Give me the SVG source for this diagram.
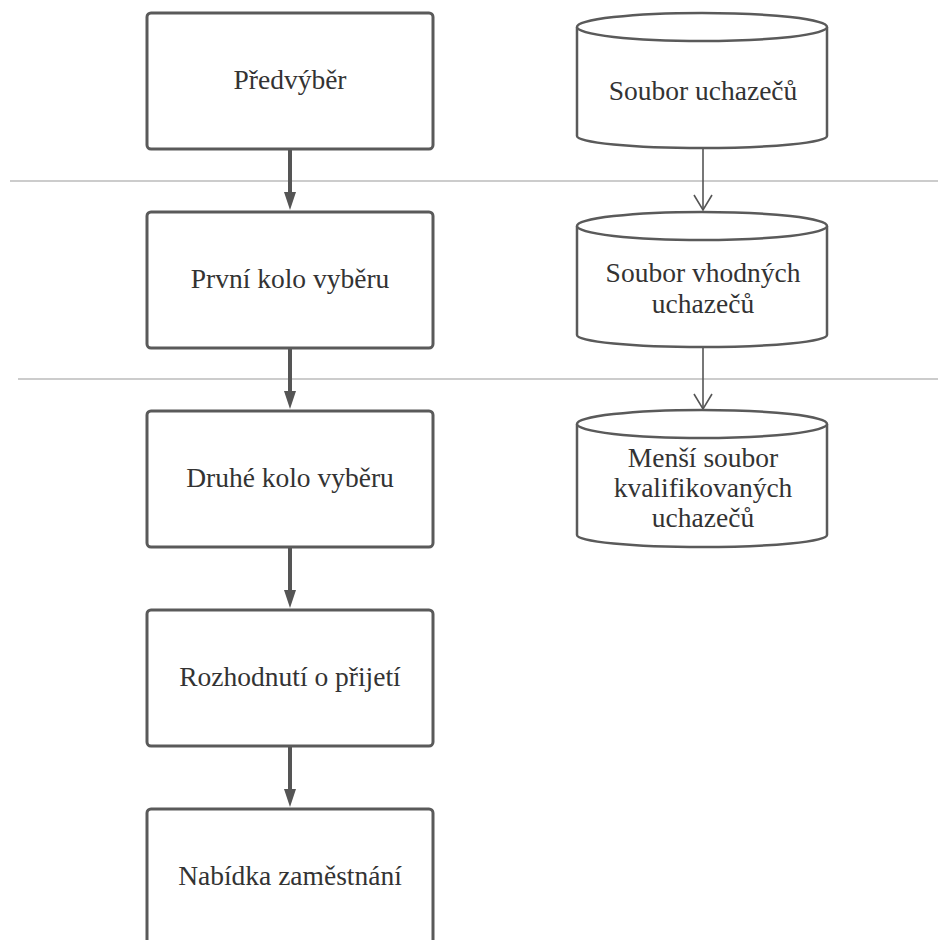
<svg xmlns="http://www.w3.org/2000/svg" width="938" height="940" viewBox="0 0 938 940">
<defs>
<style>
.box{fill:#fff;stroke:#5a5a5a;stroke-width:3}
.cyl{fill:#fff;stroke:#5a5a5a;stroke-width:2.5}
.t{font-family:"Liberation Serif","DejaVu Serif",serif;font-size:27.5px;fill:#333;text-anchor:middle}
.sep{stroke:#9a9a9a;stroke-width:1.2;fill:none}
.thick{stroke:#555;stroke-width:4;fill:none}
.thin{stroke:#555;stroke-width:1.6;fill:none}
</style>
</defs>
<rect width="938" height="940" fill="#fff"/>
<g id="separators">
<line class="sep" x1="10" y1="181" x2="938" y2="181"/>
<line class="sep" x1="18" y1="379" x2="938" y2="379"/>
</g>
<g id="connectors">
<line class="thick" x1="290" y1="149" x2="290" y2="193"/>
<path d="M284,192 L296,192 L290,210 Z" fill="#555"/>
<line class="thick" x1="290" y1="348" x2="290" y2="392"/>
<path d="M284,391 L296,391 L290,409 Z" fill="#555"/>
<line class="thick" x1="290" y1="547" x2="290" y2="591"/>
<path d="M284,590 L296,590 L290,608 Z" fill="#555"/>
<line class="thick" x1="290" y1="746" x2="290" y2="790"/>
<path d="M284,789 L296,789 L290,807 Z" fill="#555"/>
<line class="thin" x1="703" y1="148" x2="703" y2="210"/>
<path class="thin" d="M694,195 L703,210 L712,195"/>
<line class="thin" x1="703" y1="347" x2="703" y2="409"/>
<path class="thin" d="M694,394 L703,409 L712,394"/>
</g>
<g id="n1">
<rect class="box" x="147" y="13" width="286" height="136" rx="4"/>
<text class="t" x="290" y="89">Předvýběr</text>
</g>
<g id="n2">
<rect class="box" x="147" y="212" width="286" height="136" rx="4"/>
<text class="t" x="290" y="288">První kolo vyběru</text>
</g>
<g id="n3">
<rect class="box" x="147" y="411" width="286" height="136" rx="4"/>
<text class="t" x="290" y="487">Druhé kolo vyběru</text>
</g>
<g id="n4">
<rect class="box" x="147" y="610" width="286" height="136" rx="4"/>
<text class="t" x="290" y="686">Rozhodnutí o přijetí</text>
</g>
<g id="n5">
<rect class="box" x="147" y="809" width="286" height="160" rx="4"/>
<text class="t" x="290" y="885">Nabídka zaměstnání</text>
</g>
<g id="c1">
<path class="cyl" d="M577,27 A125,14 0 0,1 827,27 V136 A125,12 0 0,1 577,136 Z"/>
<path class="cyl" d="M577,27 A125,14 0 0,0 827,27"/>
<text class="t" x="703" y="100">Soubor uchazečů</text>
</g>
<g id="c2">
<path class="cyl" d="M577,226 A125,14 0 0,1 827,226 V335 A125,12 0 0,1 577,335 Z"/>
<path class="cyl" d="M577,226 A125,14 0 0,0 827,226"/>
<text class="t" x="703" y="282">Soubor vhodných</text>
<text class="t" x="703" y="313">uchazečů</text>
</g>
<g id="c3">
<path class="cyl" d="M577,424 A125,14 0 0,1 827,424 V535 A125,12 0 0,1 577,535 Z"/>
<path class="cyl" d="M577,424 A125,14 0 0,0 827,424"/>
<text class="t" x="703" y="467">Menší soubor</text>
<text class="t" x="703" y="497">kvalifikovaných</text>
<text class="t" x="703" y="527">uchazečů</text>
</g>
</svg>
